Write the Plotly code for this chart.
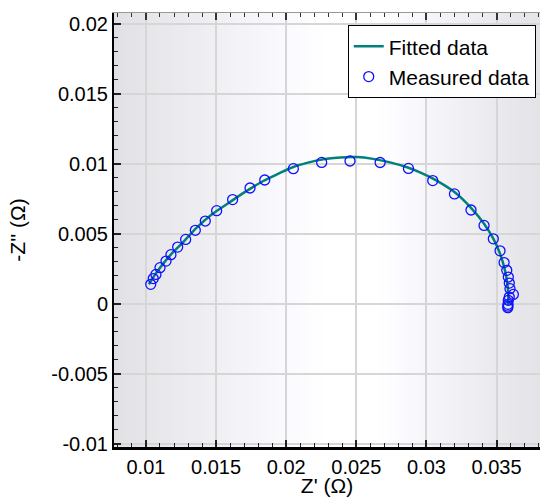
import plotly.graph_objects as go

# Measured data (Z', -Z'')
meas_x = [0.01034, 0.01052, 0.01071, 0.01100, 0.01143, 0.01178, 0.01226, 0.01283,
          0.01352, 0.01423, 0.01504, 0.01618, 0.01742, 0.01847, 0.02051, 0.02253,
          0.02455, 0.02670, 0.02872, 0.03045, 0.03200, 0.03318, 0.03411, 0.03477,
          0.03525, 0.03554, 0.03573, 0.03584, 0.03591, 0.03596, 0.03620, 0.03591,
          0.03584, 0.03582, 0.03581, 0.03580]
meas_y = [0.00138, 0.00179, 0.00209, 0.00257, 0.00304, 0.00350, 0.00404, 0.00459,
          0.00524, 0.00590, 0.00664, 0.00743, 0.00826, 0.00883, 0.00964, 0.01009,
          0.01019, 0.01008, 0.00966, 0.00879, 0.00784, 0.00669, 0.00559, 0.00463,
          0.00377, 0.00293, 0.00238, 0.00190, 0.00147, 0.00107, 0.00066, 0.00047,
          0.00024, -0.00005, -0.00018, -0.00029]

# Fitted data
fit_x = [0.01021, 0.01043, 0.01071, 0.01123, 0.01185, 0.01264, 0.01362, 0.01471,
         0.01599, 0.01713, 0.01837, 0.01942, 0.02051, 0.02155, 0.02265, 0.02384,
         0.02503, 0.02619, 0.02740, 0.02862, 0.02954, 0.03047, 0.03200, 0.03318,
         0.03411, 0.03477, 0.03525, 0.03560, 0.03580, 0.03584]
fit_y = [0.00138, 0.00174, 0.00216, 0.00286, 0.00359, 0.00438, 0.00543, 0.00638,
         0.00726, 0.00802, 0.00876, 0.00927, 0.00976, 0.01007, 0.01031, 0.01044,
         0.01047, 0.01034, 0.01009, 0.00974, 0.00938, 0.00893, 0.00797, 0.00684,
         0.00571, 0.00464, 0.00357, 0.00238, 0.00119, -0.00012]

x_tickvals = [0.01, 0.015, 0.02, 0.025, 0.03, 0.035]
x_ticktext = ["0.01", "0.015", "0.02", "0.025", "0.03", "0.035"]
y_tickvals = [-0.01, -0.005, 0, 0.005, 0.01, 0.015, 0.02]
y_ticktext = ["-0.01", "-0.005", "0", "0.005", "0.01", "0.015", "0.02"]

FONT = "Liberation Sans, Arial, sans-serif"

fig = go.Figure()
fig.add_trace(go.Scatter(x=fit_x, y=fit_y, mode="lines", name="Fitted data",
                         line=dict(color="#00807a", width=2.5, shape="spline")))
fig.add_trace(go.Scatter(x=meas_x, y=meas_y, mode="markers", name="Measured data",
                         marker=dict(symbol="circle-open", size=10, color="#1010ff",
                                     line=dict(width=1.3, color="#1010ff"))))
# invisible helper trace so the mirrored top axis is drawn
fig.add_trace(go.Scatter(x=fit_x, y=fit_y, mode="lines", xaxis="x2", showlegend=False,
                         hoverinfo="skip", line=dict(width=0, color="rgba(0,0,0,0)")))

# background horizontal gradient (pixel-fraction stops -> gray level)
stops = [(0.0, 0xe1), (0.075, 0xe6), (0.40, 0xfa), (0.50, 0xff), (0.62, 0xff),
         (0.90, 0xea), (1.0, 0xe4)]
def level(f):
    for (f0, v0), (f1, v1) in zip(stops[:-1], stops[1:]):
        if f0 <= f <= f1:
            return v0 + (v1 - v0) * (f - f0) / (f1 - f0)
    return stops[-1][1]

shapes = []
N = 90
for i in range(N):
    f0 = i / N
    f1 = (i + 1) / N
    v = level((f0 + f1) / 2)
    r = int(round(v))
    b = min(255, r + 4)
    shapes.append(dict(type="rect", xref="x domain", yref="y domain",
                       x0=f0, x1=f1 + 0.002, y0=0, y1=1, layer="below",
                       line=dict(width=0), fillcolor=f"rgb({r},{r},{b})"))

fig.update_layout(
    width=540, height=497,
    margin=dict(l=114, r=0, t=13, b=50),
    paper_bgcolor="white", plot_bgcolor="white",
    shapes=shapes,
    font=dict(family=FONT, size=20, color="black"),
    showlegend=True,
    legend=dict(x=0.99, xanchor="right", y=0.972, yanchor="top",
                bgcolor="white", bordercolor="black", borderwidth=1,
                font=dict(size=21, family=FONT, color="black"),
                tracegroupgap=0, itemsizing="trace"),
    xaxis=dict(range=[0.00772, 0.0381], tickmode="array", tickvals=x_tickvals,
               ticktext=x_ticktext, ticks="inside", ticklen=7, tickwidth=1.5,
               tickcolor="#222", showline=True, linecolor="black", linewidth=2.5,
               showgrid=True, gridcolor="#d6d6d6", gridwidth=1.6, zeroline=False,
               minor=dict(tick0=0, dtick=0.001, ticks="inside", ticklen=4,
                          tickcolor="#222", tickwidth=1, showgrid=False),
               title=dict(text="Z' (Ω)", standoff=2, font=dict(size=21)),
               tickfont=dict(size=20)),
    xaxis2=dict(matches="x", overlaying="x", side="top", anchor="y",
                showticklabels=False, ticks="inside", ticklen=7, tickwidth=1.5,
                tickcolor="#333", showline=True, linecolor="#999", linewidth=1,
                showgrid=False, zeroline=False, tickmode="array", tickvals=x_tickvals,
                minor=dict(tick0=0, dtick=0.001, ticks="inside", ticklen=4,
                           tickcolor="#333", tickwidth=1, showgrid=False)),
    yaxis=dict(range=[-0.01024, 0.02076], tickmode="array", tickvals=y_tickvals,
               ticktext=y_ticktext, ticks="inside", ticklen=7, tickwidth=1.5,
               tickcolor="#222", showline=True, linecolor="black", linewidth=2,
               showgrid=True, gridcolor="#d6d6d6", gridwidth=1.6, zeroline=False,
               minor=dict(tick0=0, dtick=0.001, ticks="inside", ticklen=4,
                          tickcolor="#222", tickwidth=1, showgrid=False),
               title=dict(text="-Z'' (Ω)", standoff=20, font=dict(size=21)),
               tickfont=dict(size=20)),
)

fig.write_html("out.html", config={"displayModeBar": False},
               post_script="document.body.style.margin='0';")
